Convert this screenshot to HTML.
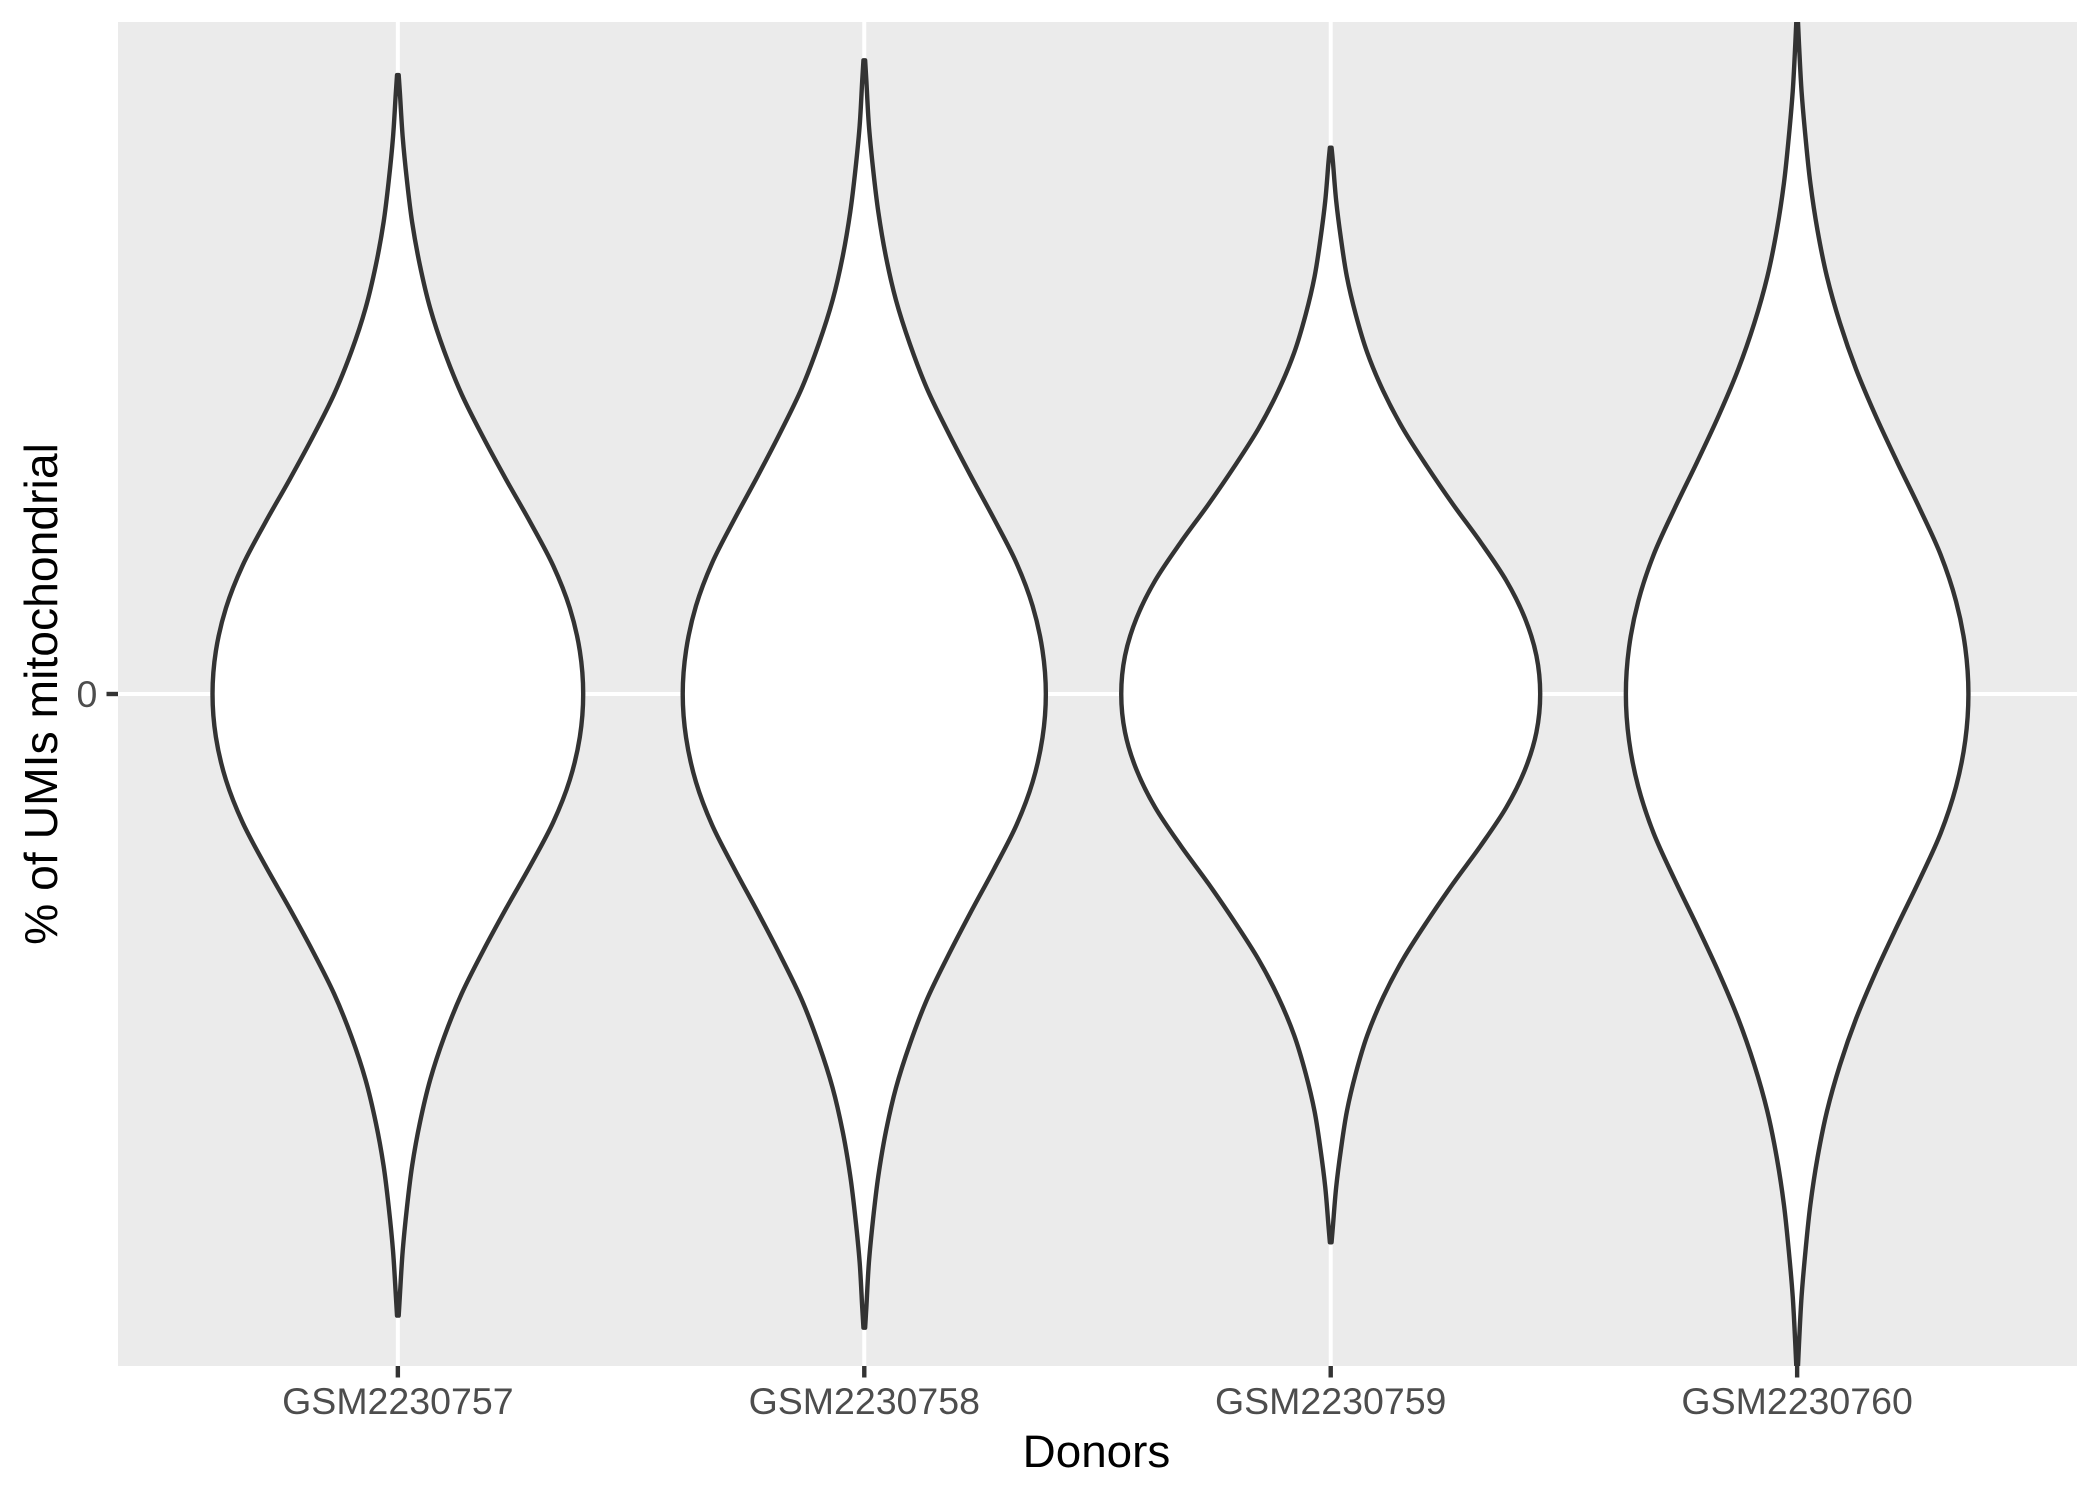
<!DOCTYPE html>
<html lang="en">
<head>
<meta charset="utf-8">
<title>% of UMIs mitochondrial by donor</title>
<style>
html,body{margin:0;padding:0;background:#fff;width:2100px;height:1499px;overflow:hidden}
svg{display:block}
text{font-family:"Liberation Sans",Arial,sans-serif}
</style>
</head>
<body>
<svg id="chart" xmlns="http://www.w3.org/2000/svg" width="2100" height="1499" viewBox="0 0 2100 1499">
  <rect x="0" y="0" width="2100" height="1499" fill="#ffffff"/>
  <defs><clipPath id="panel-clip"><rect x="118" y="22" width="1959" height="1344"/></clipPath></defs>
  <rect x="118" y="22" width="1959" height="1344" fill="#EBEBEB"/>
  <g id="grid"></g>
  <g id="violins" clip-path="url(#panel-clip)"></g>
  <g id="axes"></g>
  <text x="1096.5" y="1467" font-size="45.8" text-anchor="middle" fill="#000000">Donors</text>
  <text transform="translate(57 694) rotate(-90)" font-size="46.3" text-anchor="middle" fill="#000000">% of UMIs mitochondrial</text>
</svg>
<script>
const donors = ['GSM2230757', 'GSM2230758', 'GSM2230759', 'GSM2230760'];
const yTickValues = [0];
const yTickLabels = ['0'];

const yGSM2230757 = [0.921,0.893,0.829,0.765,0.702,0.638,0.574,0.510,0.446,0.383,0.319,0.255,0.191,0.128,0.064,0,-0.064,-0.128,-0.191,-0.255,-0.319,-0.383,-0.446,-0.510,-0.574,-0.638,-0.702,-0.765,-0.829,-0.893,-0.925];
const densityGSM2230757 = [0.004,0.010,0.023,0.043,0.068,0.105,0.154,0.221,0.304,0.405,0.516,0.632,0.740,0.819,0.867,0.883,0.867,0.819,0.740,0.632,0.516,0.405,0.304,0.221,0.154,0.105,0.068,0.043,0.023,0.010,0.004];

const yGSM2230758 = [0.943,0.912,0.846,0.781,0.717,0.651,0.586,0.521,0.455,0.391,0.326,0.260,0.195,0.131,0.065,0,-0.065,-0.131,-0.195,-0.260,-0.326,-0.391,-0.455,-0.521,-0.586,-0.651,-0.717,-0.781,-0.846,-0.912,-0.943];
const densityGSM2230758 = [0.004,0.010,0.022,0.042,0.067,0.103,0.151,0.217,0.298,0.397,0.505,0.619,0.725,0.802,0.849,0.865,0.849,0.802,0.725,0.619,0.505,0.397,0.298,0.217,0.151,0.103,0.067,0.042,0.022,0.010,0.004];

const yGSM2230759 = [0.813,0.790,0.734,0.677,0.621,0.565,0.508,0.451,0.395,0.339,0.282,0.226,0.169,0.113,0.057,0,-0.057,-0.113,-0.169,-0.226,-0.282,-0.339,-0.395,-0.451,-0.508,-0.565,-0.621,-0.677,-0.734,-0.790,-0.816];
const densityGSM2230759 = [0.004,0.011,0.026,0.049,0.077,0.119,0.174,0.250,0.344,0.458,0.583,0.714,0.836,0.925,0.980,0.998,0.980,0.925,0.836,0.714,0.583,0.458,0.344,0.250,0.174,0.119,0.077,0.049,0.026,0.011,0.004];

const yGSM2230760 = [1.000,0.966,0.897,0.828,0.760,0.690,0.621,0.552,0.483,0.414,0.345,0.276,0.207,0.138,0.069,0,-0.069,-0.138,-0.207,-0.276,-0.345,-0.414,-0.483,-0.552,-0.621,-0.690,-0.760,-0.828,-0.897,-0.966,-1.000];
const densityGSM2230760 = [0.004,0.009,0.021,0.040,0.063,0.097,0.142,0.204,0.281,0.374,0.477,0.584,0.684,0.757,0.801,0.816,0.801,0.757,0.684,0.584,0.477,0.374,0.281,0.204,0.142,0.097,0.063,0.040,0.021,0.009,0.004];

const yByDonor = [yGSM2230757, yGSM2230758, yGSM2230759, yGSM2230760];
const densityByDonor = [densityGSM2230757, densityGSM2230758, densityGSM2230759, densityGSM2230760];

const NS = 'http://www.w3.org/2000/svg';
const panelLeft = 118, panelRight = 2077, panelTop = 22, panelBottom = 1366;
const unit = (panelRight - panelLeft) / (donors.length - 1 + 1.2);
function xScale(i) { return panelLeft + (i + 0.6) * unit; }
function yScale(v) { return (panelTop + panelBottom) / 2 - v * (panelBottom - panelTop) / 2; }
function widthScale(d) { return d * 0.45 * unit; }

function smooth(points) {
  let d = 'M' + points[0][0].toFixed(2) + ' ' + points[0][1].toFixed(2);
  for (let i = 0; i < points.length - 1; i++) {
    const p0 = points[Math.max(i - 1, 0)];
    const p1 = points[i];
    const p2 = points[i + 1];
    const p3 = points[Math.min(i + 2, points.length - 1)];
    const c1x = p1[0] + (p2[0] - p0[0]) / 6;
    const c1y = p1[1] + (p2[1] - p0[1]) / 6;
    const c2x = p2[0] - (p3[0] - p1[0]) / 6;
    const c2y = p2[1] - (p3[1] - p1[1]) / 6;
    d += 'C' + c1x.toFixed(2) + ' ' + c1y.toFixed(2) + ' ' + c2x.toFixed(2) + ' ' + c2y.toFixed(2) + ' ' + p2[0].toFixed(2) + ' ' + p2[1].toFixed(2);
  }
  return d;
}

const gridGroup = document.getElementById('grid');
const violinGroup = document.getElementById('violins');
const axesGroup = document.getElementById('axes');

yTickValues.forEach(function (v, i) {
  const y = yScale(v);
  const g = document.createElementNS(NS, 'line');
  
  
  g.setAttribute('x1', panelLeft);
  g.setAttribute('x2', panelRight);
  g.setAttribute('y1', y);
  g.setAttribute('y2', y);
  g.setAttribute('stroke', '#ffffff');
  g.setAttribute('stroke-width', '4');
  gridGroup.appendChild(g);

  const t = document.createElementNS(NS, 'line');
  
  
  t.setAttribute('x1', panelLeft - 11.5);
  t.setAttribute('x2', panelLeft);
  t.setAttribute('y1', y);
  t.setAttribute('y2', y);
  t.setAttribute('stroke', '#333333');
  t.setAttribute('stroke-width', '4.4');
  axesGroup.appendChild(t);

  const l = document.createElementNS(NS, 'text');
  
  
  l.setAttribute('x', panelLeft - 20.7);
  l.setAttribute('y', y + 13);
  l.setAttribute('font-size', '37.5');
  l.setAttribute('text-anchor', 'end');
  l.setAttribute('fill', '#4D4D4D');
  l.textContent = yTickLabels[i];
  axesGroup.appendChild(l);
});

donors.forEach(function (name, i) {
  const cx = xScale(i);

  const g = document.createElementNS(NS, 'line');
  
  
  g.setAttribute('x1', cx);
  g.setAttribute('x2', cx);
  g.setAttribute('y1', panelTop);
  g.setAttribute('y2', panelBottom);
  g.setAttribute('stroke', '#ffffff');
  g.setAttribute('stroke-width', '4');
  gridGroup.appendChild(g);

  const ys = yByDonor[i];
  const ds = densityByDonor[i];
  const right = ys.map(function (v, k) { return [cx + widthScale(ds[k]), yScale(v)]; });
  const left = ys.map(function (v, k) { return [cx - widthScale(ds[k]), yScale(v)]; }).reverse();
  const leftPath = smooth(left).replace(/^M/, 'L');
  const p = document.createElementNS(NS, 'path');
  
  
  p.setAttribute('d', smooth(right) + leftPath + 'Z');
  p.setAttribute('fill', '#ffffff');
  p.setAttribute('stroke', '#333333');
  p.setAttribute('stroke-width', '4.4');
  p.setAttribute('stroke-linejoin', 'round');
  violinGroup.appendChild(p);

  const t = document.createElementNS(NS, 'line');
  
  
  t.setAttribute('x1', cx);
  t.setAttribute('x2', cx);
  t.setAttribute('y1', panelBottom);
  t.setAttribute('y2', panelBottom + 11.5);
  t.setAttribute('stroke', '#333333');
  t.setAttribute('stroke-width', '4.4');
  axesGroup.appendChild(t);

  const l = document.createElementNS(NS, 'text');
  
  
  l.setAttribute('x', cx);
  l.setAttribute('y', 1414);
  l.setAttribute('font-size', '37.5');
  l.setAttribute('text-anchor', 'middle');
  l.setAttribute('fill', '#4D4D4D');
  l.textContent = name;
  axesGroup.appendChild(l);
});
</script>
</body>
</html>
